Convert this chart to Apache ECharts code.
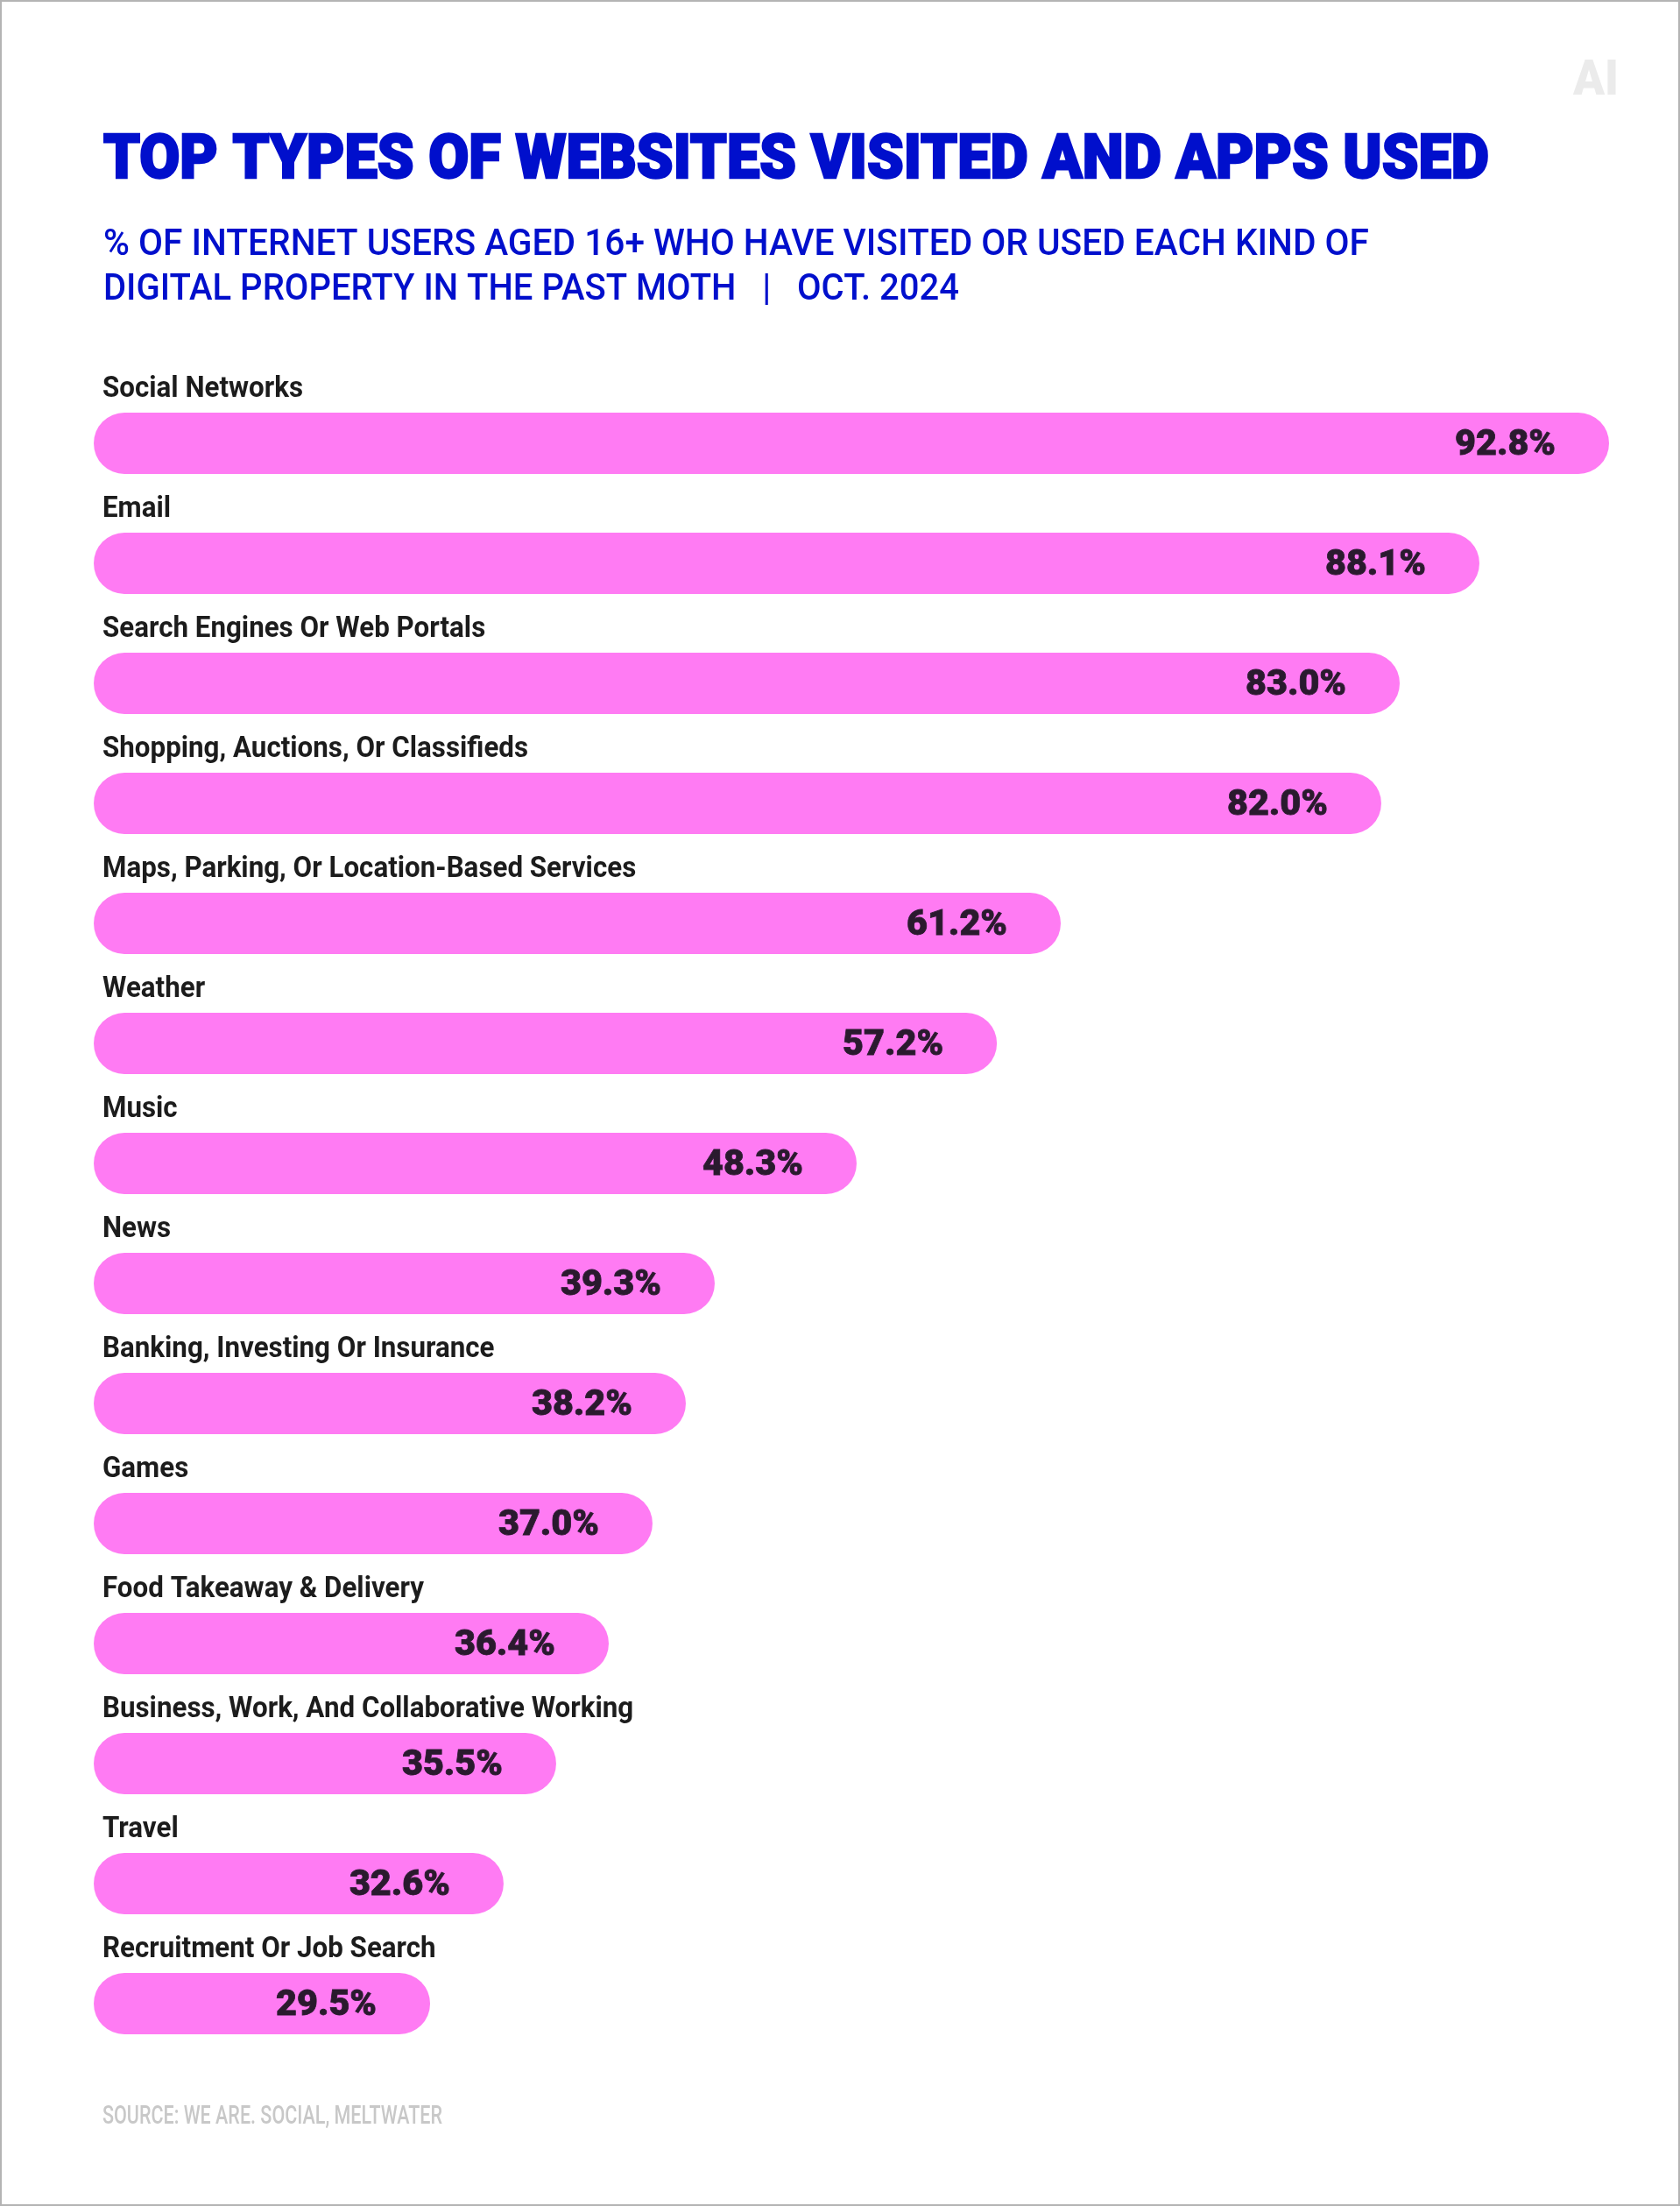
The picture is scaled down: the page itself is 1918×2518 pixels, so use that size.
<!DOCTYPE html>
<html><head><meta charset="utf-8">
<style>html,body{margin:0;padding:0;background:#fff}#c{width:1918px;height:2518px}</style>
<script src="https://cdn.jsdelivr.net/npm/echarts@6/dist/echarts.min.js"></script>
</head><body><div id="c"></div>
<script>
const titleText = 'TOP TYPES OF WEBSITES VISITED AND APPS USED';
const subtitleLine1 = '% OF INTERNET USERS AGED 16+ WHO HAVE VISITED OR USED EACH KIND OF';
const subtitleLine2 = 'DIGITAL PROPERTY IN THE PAST MOTH   |   OCT. 2024';
const sourceText = 'SOURCE: WE ARE. SOCIAL, MELTWATER';
const categories = ['Social Networks','Email','Search Engines Or Web Portals','Shopping, Auctions, Or Classifieds','Maps, Parking, Or Location-Based Services','Weather','Music','News','Banking, Investing Or Insurance','Games','Food Takeaway & Delivery','Business, Work, And Collaborative Working','Travel','Recruitment Or Job Search'];
// Percentages as printed on the bars.
const printedPercent = [92.8,88.1,83.0,82.0,61.2,57.2,48.3,39.3,38.2,37.0,36.4,35.5,32.6,29.5];
// The reference's bars are not proportional to their printed figures, so the
// drawn lengths are read separately from the picture (first bar = its printed value).
const drawnLength = [92.8,84.86,79.98,78.85,59.22,55.31,46.72,38.03,36.26,34.22,31.54,28.32,25.1,20.6];

const FONT = 'Roboto';
const ctx = document.createElement('canvas').getContext('2d');
function fit(text, font, w){ ctx.font = font; return w / ctx.measureText(text).width; }
function head(text, x, mid, size, weight, color, w, bold){
  const font = weight+' '+size+'px '+FONT;
  return {type:'text', x:x, y:mid, scaleX:fit(text,font,w), silent:true,
    style:{text:text, x:0, y:0, font:font, fill:color, align:'left', verticalAlign:'middle',
      stroke:bold?color:null, lineWidth:bold||0}};
}
const BLUE='#000fcc', INK='#1c1c1c', NUM='#2a1a2e';
const labelFont='700 34px '+FONT, valueFont='900 41px '+FONT;
const labelScale=fit('Social Networks',labelFont,229), valueScale=fit('92.8%',valueFont,115);

const chart = echarts.init(document.getElementById('c'), null, {width:1918,height:2518});
chart.setOption({
  animation:false,
  backgroundColor:'#fff',
  grid:{left:107, top:437.5, width:1730, height:1918},
  xAxis:{type:'value', min:0, max:92.8, show:false},
  yAxis:{type:'category', data:categories, inverse:true, show:false},
  graphic:[
    {type:'rect', shape:{x:1,y:1,width:1916,height:2516}, silent:true, style:{fill:'none',stroke:'#b4b4b4',lineWidth:2}},
    head('AI',1796,94,56,900,'#ebebeb',52),
    head(titleText,118,185,70,900,BLUE,1582,2.5),
    head(subtitleLine1,118,280.5,42,500,BLUE,1445),
    head(subtitleLine2,118,331,42,500,BLUE,977),
    head(sourceText,117,2416.5,30,500,'#c8c8c8',388)
  ],
  series:[
    {type:'bar', data:drawnLength, barWidth:70, itemStyle:{color:'#ff7bf3',borderRadius:35}, silent:true},
    {type:'custom', coordinateSystem:'cartesian2d', silent:true, z:5,
     data:categories.map((c,i)=>[0,i]),
     encode:{x:0,y:1},
     renderItem:(p,api)=>{
       const pt=api.coord([0,api.value(1)]);
       return {type:'text', x:pt[0]+10, y:pt[1]-61.5, scaleX:labelScale,
         style:{text:categories[p.dataIndex], x:0, y:0, font:labelFont, fill:INK, align:'left', verticalAlign:'middle'}};
     }},
    {type:'custom', coordinateSystem:'cartesian2d', silent:true, z:5,
     data:drawnLength.map((v,i)=>[v,i]),
     encode:{x:0,y:1},
     renderItem:(p,api)=>{
       const pt=api.coord([api.value(0),api.value(1)]);
       return {type:'text', x:pt[0]-61, y:pt[1]+3, scaleX:valueScale,
         style:{text:printedPercent[p.dataIndex].toFixed(1)+'%', x:0, y:0, font:valueFont, fill:NUM, stroke:NUM, lineWidth:0.8, align:'right', verticalAlign:'middle'}};
     }}
  ]
});
</script></body></html>
